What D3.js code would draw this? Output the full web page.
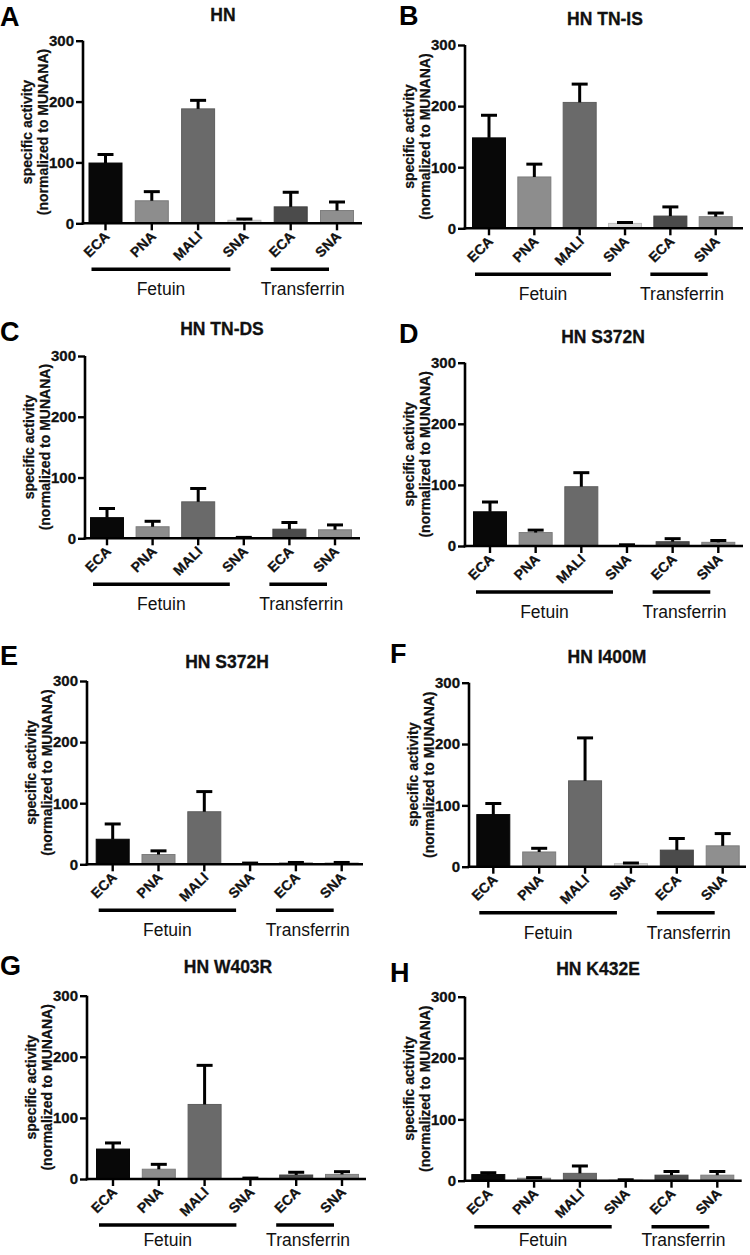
<!DOCTYPE html>
<html>
<head>
<meta charset="utf-8">
<script src="https://cdn.jsdelivr.net/npm/d3@7/dist/d3.min.js"></script>
<style>
  html, body { margin: 0; padding: 0; background: #fff; }
  svg { display: block; font-family: "Liberation Sans", Arial, Helvetica, sans-serif; }
</style>
</head>
<body>
<svg id="chart" width="750" height="1255"></svg>
<script>
// ---------------- data ----------------
const categories = ["ECA", "PNA", "MALI", "SNA", "ECA", "SNA"];
const groups = ["Fetuin", "Transferrin"];
const barColors = ["#080808", "#8d8d8d", "#6a6a6a", "#d8d8d8", "#4b4b4b", "#8f8f8f"];
const yTicks = [0, 100, 200, 300];
const panelLetters = ["A", "B", "C", "D", "E", "F", "G", "H"];
const panelTitles = ["HN", "HN TN-IS", "HN TN-DS", "HN S372N", "HN S372H", "HN I400M", "HN W403R", "HN K432E"];
const yLabel1 = "specific activity";
const yLabel2 = "(normalized to MUNANA)";

// means (bar heights) and upper error (SD) per panel
const meanA = [99, 37, 188, 5, 27, 21];
const errA  = [14, 15, 14, 2, 24, 14];
const meanB = [148, 84, 206, 8, 20, 19];
const errB  = [37, 21, 30, 1.5, 15, 6];
const meanC = [34, 19, 60, 1, 15, 14];
const errC  = [15, 9, 22, 0.5, 11, 8];
const meanD = [56, 22, 97, 1, 7, 6];
const errD  = [16, 4, 23, 1, 5, 3];
const meanE = [41, 16, 86, 1, 2, 2];
const errE  = [25, 6, 33, 1, 1, 1];
const meanF = [85, 24, 140, 5, 27, 34];
const errF  = [18, 6, 70, 1, 19, 20];
const meanG = [49, 16, 122, 1, 6.5, 7.5];
const errG  = [10, 8, 64, 0.5, 4.5, 4.5];
const meanH = [10, 4, 12, 1, 9, 9];
const errH  = [3, 1, 12, 0.5, 6, 6];
const panelMeans = [meanA, meanB, meanC, meanD, meanE, meanF, meanG, meanH];
const panelErrs  = [errA, errB, errC, errD, errE, errF, errG, errH];

// ---------------- layout (pixel geometry of each panel) ----------------
const layout = [
  {ax: 83,  yT: 40.7,  y0: 223.3,  c1: 105.5, c6: 337,   xe: 362,   tx: 223, ty: 21,  lx: 0,   ly: 26},
  {ax: 465, yT: 45,    y0: 228.3,  c1: 489,   c6: 715.7, xe: 743,   tx: 605, ty: 25,  lx: 399, ly: 25},
  {ax: 85,  yT: 356,   y0: 538.3,  c1: 107,   c6: 335,   xe: 360,   tx: 222, ty: 335, lx: 0,   ly: 341},
  {ax: 465, yT: 362.7, y0: 546,    c1: 490,   c6: 718.3, xe: 743,   tx: 603, ty: 343, lx: 399, ly: 343},
  {ax: 87,  yT: 681,   y0: 864.3,  c1: 112.7, c6: 341.7, xe: 363,   tx: 227, ty: 668, lx: 0,   ly: 665},
  {ax: 469, yT: 682.7, y0: 866.7,  c1: 493.3, c6: 722.7, xe: 746,   tx: 607, ty: 663, lx: 390, ly: 663},
  {ax: 87,  yT: 995.7, y0: 1179,   c1: 113,   c6: 342,   xe: 366,   tx: 228, ty: 973, lx: 0,   ly: 975},
  {ax: 465, yT: 996.7, y0: 1180.7, c1: 488.3, c6: 717.3, xe: 741.7, tx: 598, ty: 975, lx: 390, ly: 982}
];

const svg = d3.select("#chart");
const barW = 33;
const capW = 16;
const textCol = "#111";

layout.forEach((L, p) => {
  const means = panelMeans[p];
  const errs = panelErrs[p];
  const g = svg.append("g");

  const y = d3.scaleLinear().domain([0, 300]).range([L.y0, L.yT]);
  const x = d3.scalePoint().domain(d3.range(categories.length)).range([L.c1, L.c6]);

  // bars
  g.selectAll("rect.bar").data(means).join("rect")
    .attr("class", "bar")
    .attr("x", (d, i) => x(i) - barW / 2)
    .attr("y", d => y(d))
    .attr("width", barW)
    .attr("height", d => L.y0 - y(d))
    .attr("fill", (d, i) => barColors[i])
    .attr("stroke", (d, i) => d3.color(barColors[i]).darker(0.35))
    .attr("stroke-width", 1);

  // error bars (upper only)
  const eb = g.selectAll("g.err").data(means).join("g").attr("class", "err");
  eb.append("line")
    .attr("x1", (d, i) => x(i)).attr("x2", (d, i) => x(i))
    .attr("y1", d => y(d)).attr("y2", (d, i) => y(d + errs[i]))
    .attr("stroke", "#000").attr("stroke-width", 3);
  eb.append("line")
    .attr("x1", (d, i) => x(i) - capW / 2).attr("x2", (d, i) => x(i) + capW / 2)
    .attr("y1", (d, i) => y(d + errs[i])).attr("y2", (d, i) => y(d + errs[i]))
    .attr("stroke", "#000").attr("stroke-width", 3);

  // y axis
  const yAxis = d3.axisLeft(y).tickValues(yTicks).tickSize(7).tickPadding(2).tickSizeOuter(0);
  const yg = g.append("g").attr("transform", `translate(${L.ax},0)`).call(yAxis);
  yg.select(".domain").attr("stroke", "#000").attr("stroke-width", 2.6).attr("d", `M0,${L.yT}V${L.y0 + 1.3}`);
  yg.selectAll(".tick line").attr("stroke", "#000").attr("stroke-width", 2.4);
  yg.selectAll(".tick text").attr("font-size", 15).attr("font-weight", "bold").attr("fill", textCol)
    .attr("stroke", textCol).attr("stroke-width", 0.3);

  // x axis baseline + ticks
  g.append("line").attr("x1", L.ax - 1.3).attr("x2", L.xe)
    .attr("y1", L.y0).attr("y2", L.y0).attr("stroke", "#000").attr("stroke-width", 2.6);
  g.selectAll("line.xtick").data(categories).join("line").attr("class", "xtick")
    .attr("x1", (d, i) => x(i)).attr("x2", (d, i) => x(i))
    .attr("y1", L.y0).attr("y2", L.y0 + 7)
    .attr("stroke", "#000").attr("stroke-width", 2.4);

  // category labels (rotated)
  g.selectAll("text.cat").data(categories).join("text").attr("class", "cat")
    .attr("transform", (d, i) => `translate(${x(i) + 5},${L.y0 + 14}) rotate(-45)`)
    .attr("text-anchor", "end")
    .attr("font-size", 14).attr("font-weight", "bold").attr("fill", textCol)
    .attr("stroke", textCol).attr("stroke-width", 0.3)
    .text(d => d);

  // y axis title
  const cy = (L.yT + L.y0) / 2;
  [[yLabel1, 51], [yLabel2, 35.5]].forEach(([t, off]) => {
    g.append("text")
      .attr("transform", `translate(${L.ax - off},${cy}) rotate(-90)`)
      .attr("text-anchor", "middle")
      .attr("font-size", 14).attr("font-weight", "bold").attr("fill", textCol)
      .attr("stroke", textCol).attr("stroke-width", 0.25)
      .text(t);
  });

  // group underlines + labels
  const gLines = [
    {x1: x(0) - 14, x2: x(3) - 14, label: groups[0], off: 0},
    {x1: x(4) - 20, x2: x(5) - 8,  label: groups[1], off: 3}
  ];
  const labY = Math.min(L.y0 + 72, 1246);
  gLines.forEach(s => {
    g.append("line").attr("x1", s.x1).attr("x2", s.x2)
      .attr("y1", L.y0 + 46).attr("y2", L.y0 + 46)
      .attr("stroke", "#000").attr("stroke-width", 3.4);
    g.append("text").attr("x", (s.x1 + s.x2) / 2 + s.off).attr("y", labY)
      .attr("text-anchor", "middle").attr("font-size", 17.5).attr("fill", textCol)
      .text(s.label);
  });

  // title
  g.append("text").attr("x", L.tx).attr("y", L.ty)
    .attr("text-anchor", "middle").attr("font-size", 17.5).attr("font-weight", "bold").attr("fill", textCol)
    .attr("stroke", textCol).attr("stroke-width", 0.3)
    .text(panelTitles[p]);

  // panel letter
  g.append("text").attr("x", L.lx).attr("y", L.ly)
    .attr("font-size", 27).attr("font-weight", "bold").attr("fill", "#000")
    .text(panelLetters[p]);
});
</script>
</body>
</html>
